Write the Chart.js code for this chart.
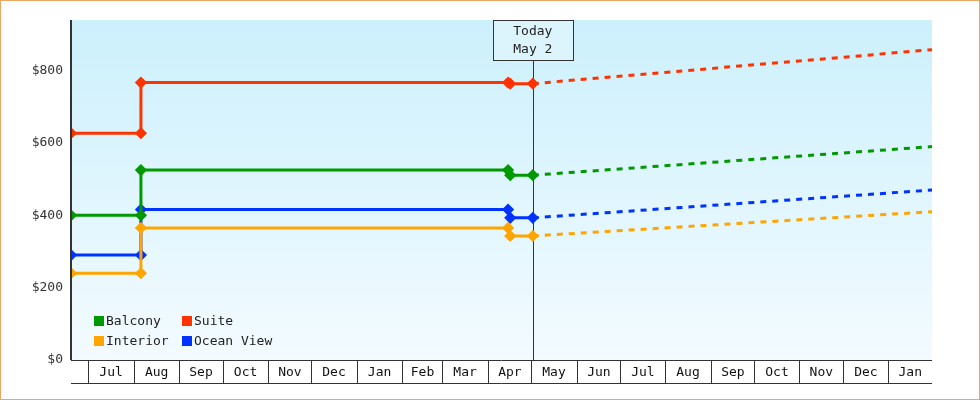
<!DOCTYPE html>
<html><head><meta charset="utf-8">
<script src="https://cdn.jsdelivr.net/npm/chart.js@4"></script>
<style>
html,body{margin:0;padding:0;background:#fff}
#wrap{width:980px;height:400px;box-sizing:border-box;border:1px solid #e8a860;position:relative}
canvas{display:block}
</style></head><body>
<div id="wrap"><canvas id="c" width="978" height="398"></canvas></div>
<script>
// x values = days since Jul 1 (first year)
const seriesNames = ["Balcony", "Suite", "Interior", "Ocean View"];
const seriesColors = ["#009900", "#ff3300", "#ffa500", "#0033ff"];
const historyX = [-12, 36, 36, 288, 289.5, 305];
const balcony = [400, 400, 525, 525, 511, 511];
const suite = [627, 627, 767, 767, 764, 764];
const interior = [240, 240, 365, 365, 343, 343];
const oceanView = [290, 290, 416, 416, 393, 393];
const projX = [305, 579];
const balconyProj = [511, 590];
const suiteProj = [764, 858];
const interiorProj = [343, 410];
const oceanViewProj = [393, 470];
const monthLabels = ["Jul","Aug","Sep","Oct","Nov","Dec","Jan","Feb","Mar","Apr","May","Jun","Jul","Aug","Sep","Oct","Nov","Dec","Jan"];
const monthStarts = [0,31,62,92,123,153,184,215,243,274,304,335,365,396,427,457,488,518,549,580];
const yTicks = [0,200,400,600,800];
const todayX = 305;
const todayLabel = ["Today","May 2"];
const xMin = -12, xMax = 579, yMax = 940;

const FONT = '"DejaVu Sans Mono", monospace';
const hist = [balcony, suite, interior, oceanView];
const proj = [balconyProj, suiteProj, interiorProj, oceanViewProj];
const datasets = [];
hist.forEach((arr,i)=>datasets.push({label:seriesNames[i],data:historyX.map((x,j)=>({x,y:arr[j]})),
  borderColor:seriesColors[i],backgroundColor:seriesColors[i],borderWidth:3,pointRadius:4,pointStyle:'rectRot',pointHoverRadius:4,tension:0}));
proj.forEach((arr,i)=>datasets.push({label:seriesNames[i]+' proj',data:projX.map((x,j)=>({x,y:arr[j]})),
  borderColor:seriesColors[i],borderWidth:3,borderDash:[6,6],pointRadius:0,tension:0}));

const deco = {
  id:'deco',
  beforeDatasetsDraw(ch){
    const {ctx,chartArea:a,scales:{x,y}} = ch;
    const g = ctx.createLinearGradient(0,a.top,0,a.bottom);
    g.addColorStop(0,'#ccf0fc'); g.addColorStop(1,'#f3fbff');
    ctx.save(); ctx.fillStyle=g; ctx.fillRect(a.left,a.top,a.right-a.left,a.bottom-a.top);
    // today line
    const tx = Math.round(x.getPixelForValue(todayX))+0.5;
    ctx.strokeStyle='#333'; ctx.lineWidth=1;
    ctx.beginPath(); ctx.moveTo(tx,a.top+40); ctx.lineTo(tx,a.bottom); ctx.stroke();
    ctx.restore();
  },
  afterDraw(ch){
    const {ctx,chartArea:a,scales:{x,y}} = ch;
    ctx.save();
    // axes
    ctx.strokeStyle='#333'; ctx.lineWidth=2;
    ctx.beginPath(); ctx.moveTo(a.left,a.top); ctx.lineTo(a.left,a.bottom); ctx.stroke();
    ctx.lineWidth=1;
    ctx.beginPath(); ctx.moveTo(a.left,a.bottom+0.5); ctx.lineTo(a.right,a.bottom+0.5);
    ctx.moveTo(a.left,a.bottom+23.5); ctx.lineTo(a.right,a.bottom+23.5); ctx.stroke();
    // month band
    ctx.font='13px '+FONT; ctx.fillStyle='#111'; ctx.textAlign='center'; ctx.textBaseline='middle';
    monthStarts.forEach((m,i)=>{
      const px = Math.round(x.getPixelForValue(m))+0.5;
      if(px<=a.right){ctx.beginPath(); ctx.moveTo(px,a.bottom); ctx.lineTo(px,a.bottom+23); ctx.stroke();}
      if(i<monthLabels.length){
        const nx = Math.min(x.getPixelForValue(monthStarts[i+1]),a.right);
        ctx.fillText(monthLabels[i],(px+nx)/2,a.bottom+13);
      }
    });
    // today box
    const tx = x.getPixelForValue(todayX);
    ctx.fillStyle='rgba(220,245,253,1)';
    ctx.fillRect(tx-40,a.top,80,40);
    ctx.strokeRect(Math.round(tx-40)+0.5,a.top+0.5,80,40);
    ctx.fillStyle='#222';
    ctx.fillText(todayLabel[0],tx,a.top+12); ctx.fillText(todayLabel[1],tx,a.top+30);
    // legend
    ctx.textAlign='left';
    const pos=[[93,320],[181,320],[93,340],[181,340]];
    const order=[0,1,2,3];
    order.forEach((i,k)=>{
      const [lx,ly]=pos[k];
      ctx.fillStyle=seriesColors[i]; ctx.fillRect(lx,ly-5,10,10);
      ctx.fillStyle='#222'; ctx.fillText(seriesNames[i],lx+12,ly+1);
    });
    ctx.restore();
  }
};

new Chart(document.getElementById('c'),{
  type:'line',
  data:{datasets},
  options:{
    responsive:false,animation:false,
    layout:{padding:{top:19,right:47,bottom:39,left:0}},
    plugins:{legend:{display:false},tooltip:{enabled:false}},
    scales:{
      x:{type:'linear',min:xMin,max:xMax,display:false},
      y:{min:0,max:yMax,afterBuildTicks:s=>{s.ticks=yTicks.map(v=>({value:v}));},
        afterFit:s=>{s.width=70;},
        grid:{display:false,drawTicks:true,tickLength:6,color:'#333'},
        border:{display:false},
        ticks:{color:'#333',font:{family:FONT,size:13},padding:2,callback:v=>'$'+v}}
    }
  },
  plugins:[deco]
});
</script></body></html>
